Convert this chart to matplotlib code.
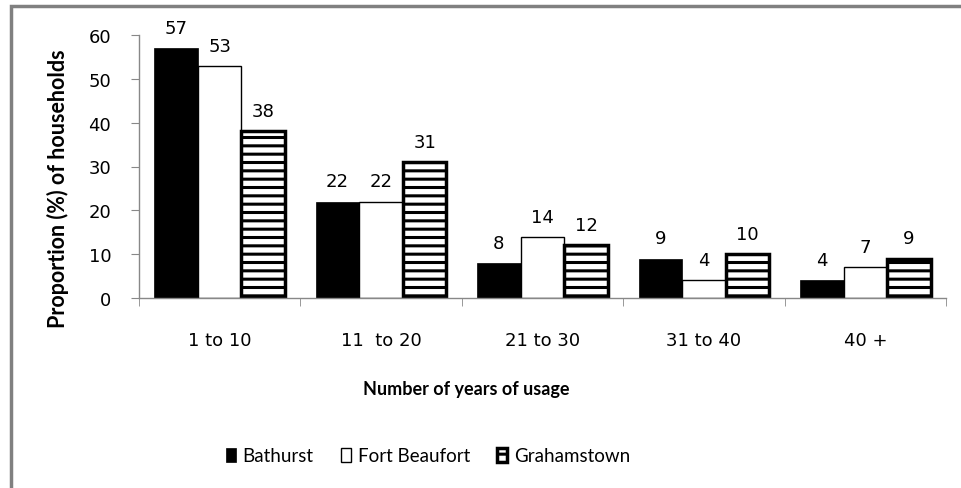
# Доля домохозяйств по числу лет использования

import numpy as np
import matplotlib.pyplot as plt
from matplotlib.patches import Rectangle

# Данные
categories = ["1 to 10", "11  to 20", "21 to 30", "31 to 40", "40 +"]
bathurst = [57, 22, 8, 9, 4]
fort_beaufort = [53, 22, 14, 4, 7]
grahamstown = [38, 31, 12, 10, 9]
series_names = ["Bathurst", "Fort Beaufort", "Grahamstown"]

plt.rcParams['font.family'] = ['Lato', 'DejaVu Sans']
plt.rcParams['hatch.linewidth'] = 2.2
plt.rcParams['hatch.color'] = 'black'

num_font = 'DejaVu Sans'  # широкие цифры, как на оригинале

fig = plt.figure(figsize=(9.61, 4.89), dpi=100)
ax = fig.add_axes([139 / 961, 1 - 299 / 489, (946 - 139) / 961, (299 - 36) / 489])

x = np.arange(len(categories))
w = 0.27

b1 = ax.bar(x - w, bathurst, w, color='black', edgecolor='black', linewidth=0.5, label=series_names[0])
b2 = ax.bar(x, fort_beaufort, w, color='white', edgecolor='black', linewidth=1, label=series_names[1])
b3 = ax.bar(x + w, grahamstown, w, color='white', edgecolor='black', linewidth=2.5, hatch='--', label=series_names[2])

# Подписи значений над столбцами
for bars in (b1, b2, b3):
    for rect in bars:
        h = rect.get_height()
        ax.annotate(str(int(h)), (rect.get_x() + rect.get_width() / 2, h),
                    xytext=(0, 8), textcoords='offset points',
                    ha='center', va='bottom', fontsize=13, family=num_font)

ax.set_xlim(-0.5, len(categories) - 0.5)
ax.set_ylim(0, 60)
ax.set_yticks(range(0, 61, 10))
ax.set_xticks(x)
ax.set_xticklabels(categories)
ax.set_xticks(np.arange(-0.5, len(categories)), minor=True)

for lbl in ax.get_yticklabels() + ax.get_xticklabels():
    lbl.set_family(num_font)

for s in ['top', 'right']:
    ax.spines[s].set_visible(False)
for s in ['left', 'bottom']:
    ax.spines[s].set_color('#888888')
    ax.spines[s].set_linewidth(1)

ax.tick_params(axis='y', length=6, color='#888888', pad=14, labelsize=13)
ax.tick_params(axis='x', which='major', length=0, pad=24, labelsize=13)
ax.tick_params(axis='x', which='minor', length=6, color='#888888')

fig.text(58 / 961, 1 - 189 / 489, "Proportion (%) of households", rotation=90,
         ha='center', va='center', fontsize=15.5, fontweight='bold')
fig.text(466 / 961, 1 - 390 / 489, "Number of years of usage",
         ha='center', va='center', fontsize=13, fontweight='bold')

fig.legend(handles=[b1, b2, b3], labels=series_names, loc='center',
           bbox_to_anchor=(428 / 961, 1 - 457 / 489), ncol=3, frameon=False,
           fontsize=13.5, handlelength=0.55, handleheight=0.8,
           handletextpad=0.35, columnspacing=1.45)

# Серая рамка вокруг диаграммы
fig.patches.append(Rectangle((11 / 961, -0.5), 2, 1 - 7 / 489 + 0.5,
                             transform=fig.transFigure, fill=False,
                             edgecolor='#808080', linewidth=2.5))

fig.savefig("out.png", dpi=100)
